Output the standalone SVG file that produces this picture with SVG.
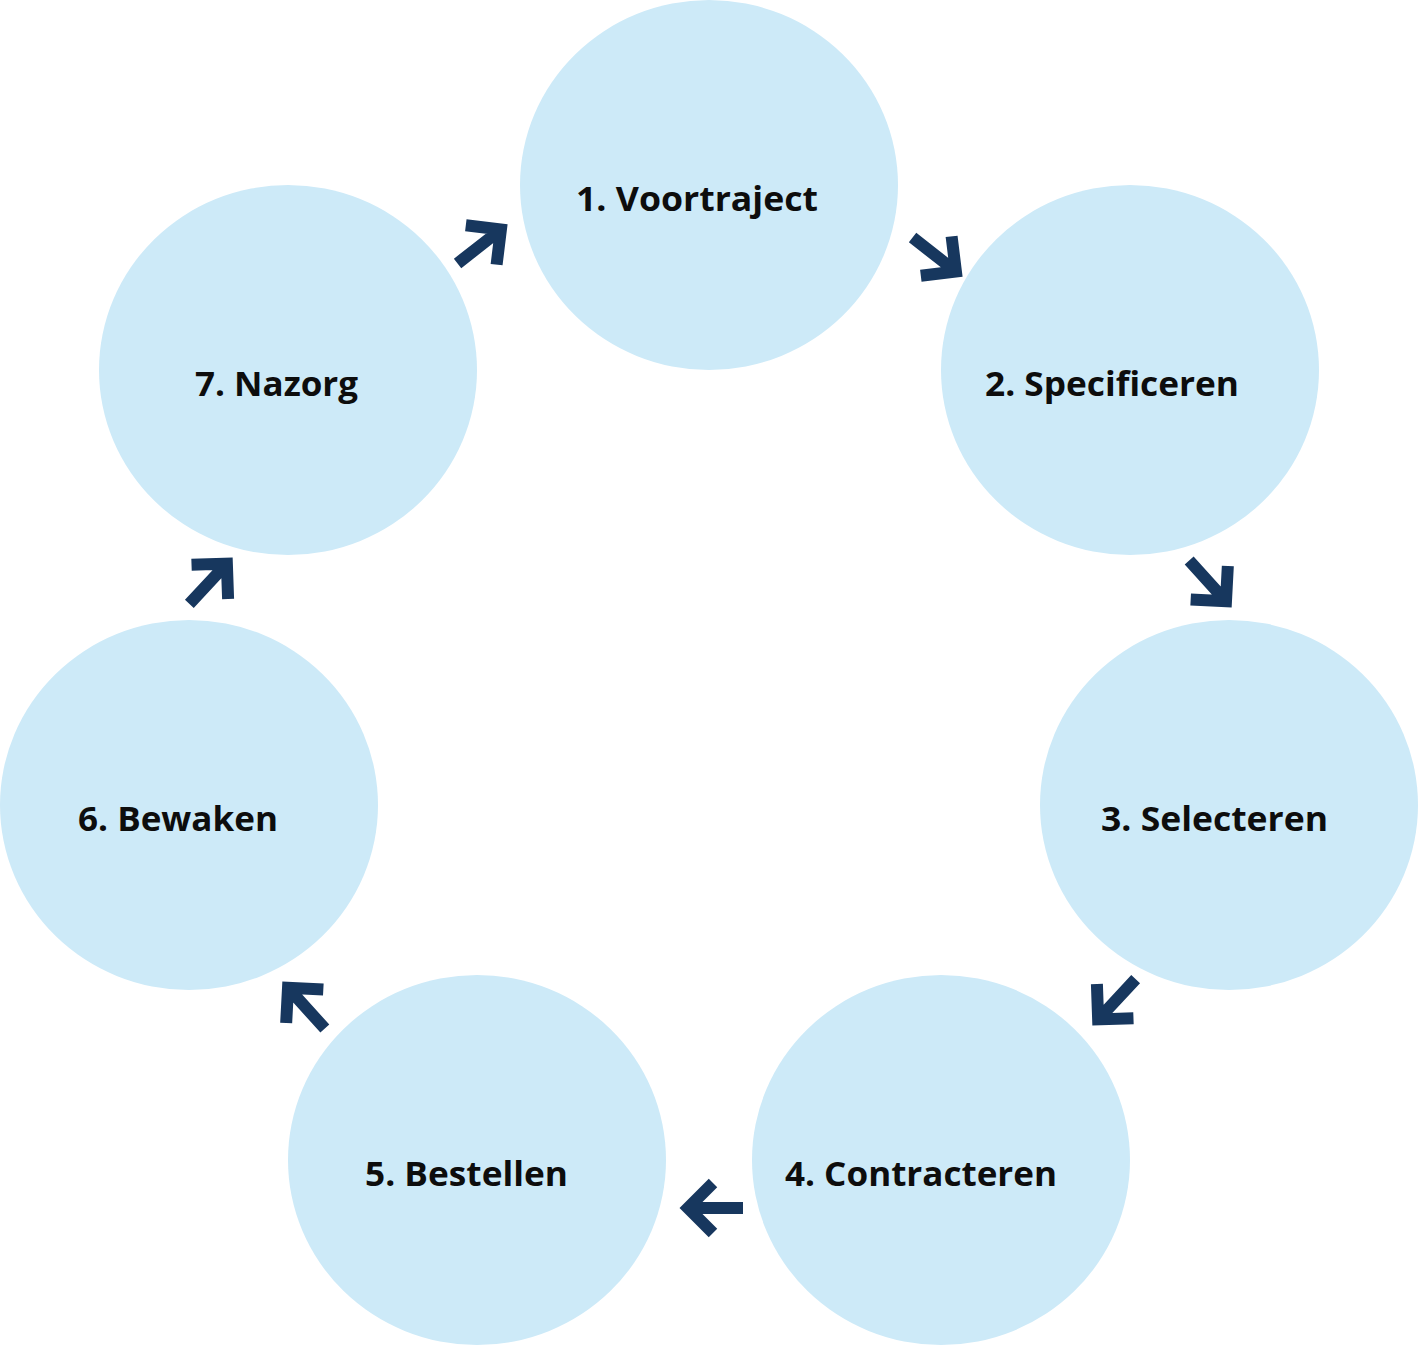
<svg xmlns="http://www.w3.org/2000/svg" xmlns:xlink="http://www.w3.org/1999/xlink" width="1419" height="1346" viewBox="0 0 1419 1346">
<style>
.node{fill:#CDEAF8;}
.lbl{font-family:"Open Sans","Liberation Sans",sans-serif;font-weight:bold;font-size:34px;fill:#0D0D0D;}
.arr{fill:none;stroke:#17375E;stroke-width:12;stroke-linejoin:miter;stroke-miterlimit:10;}
</style>
<defs>
<path id="arrow" d="M -64 0 L -12 0 M -34 -25 L -9 0 L -34 25"/>
</defs>
<rect width="1419" height="1346" fill="#FFFFFF"/>
<g id="n1"><ellipse class="node" cx="709" cy="185" rx="189" ry="185"/><text class="lbl" x="576" y="211" textLength="242" lengthAdjust="spacingAndGlyphs">1. Voortraject</text></g>
<g id="n2"><ellipse class="node" cx="1130" cy="370" rx="189" ry="185"/><text class="lbl" x="985" y="396" textLength="254" lengthAdjust="spacingAndGlyphs">2. Specificeren</text></g>
<g id="n3"><ellipse class="node" cx="1229" cy="805" rx="189" ry="185"/><text class="lbl" x="1101" y="831" textLength="227" lengthAdjust="spacingAndGlyphs">3. Selecteren</text></g>
<g id="n4"><ellipse class="node" cx="941" cy="1160" rx="189" ry="185"/><text class="lbl" x="785" y="1186" textLength="272" lengthAdjust="spacingAndGlyphs">4. Contracteren</text></g>
<g id="n5"><ellipse class="node" cx="477" cy="1160" rx="189" ry="185"/><text class="lbl" x="365" y="1186" textLength="203" lengthAdjust="spacingAndGlyphs">5. Bestellen</text></g>
<g id="n6"><ellipse class="node" cx="189" cy="805" rx="189" ry="185"/><text class="lbl" x="78" y="831" textLength="200" lengthAdjust="spacingAndGlyphs">6. Bewaken</text></g>
<g id="n7"><ellipse class="node" cx="288" cy="370" rx="189" ry="185"/><text class="lbl" x="195" y="396" textLength="163" lengthAdjust="spacingAndGlyphs">7. Nazorg</text></g>
<g id="connectors" class="arr">
<use xlink:href="#arrow" transform="translate(963 277) rotate(38)"/>
<use xlink:href="#arrow" transform="translate(1232 608) rotate(48)"/>
<use xlink:href="#arrow" transform="translate(1092 1026) rotate(133)"/>
<use xlink:href="#arrow" transform="translate(679 1208) rotate(180)"/>
<use xlink:href="#arrow" transform="translate(282 981) rotate(228)"/>
<use xlink:href="#arrow" transform="translate(233 557) rotate(-47)"/>
<use xlink:href="#arrow" transform="translate(508 224) rotate(-38)"/>
</g>
</svg>
